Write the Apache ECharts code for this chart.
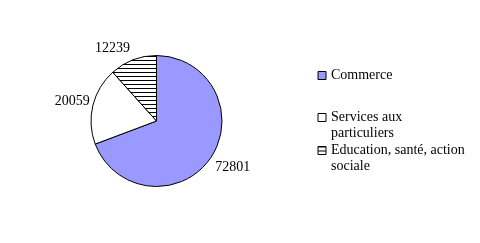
<!DOCTYPE html>
<html>
<head>
<meta charset="utf-8">
<script src="https://cdn.jsdelivr.net/npm/echarts@6/dist/echarts.min.js"></script>
<style>
html,body{margin:0;padding:0;background:#fff;}
#chart{width:480px;height:243px;}
</style>
</head>
<body>
<div id="chart"></div>
<script>
// ---- data ----
var categories = ['Commerce', 'Services aux particuliers', 'Education, santé, action sociale'];
var values = [72801, 20059, 12239];
var legendLabels = ['Commerce', 'Services aux\nparticuliers', 'Education, santé, action\nsociale'];

// ---- styles ----
function hatch() {
  var c = document.createElement('canvas');
  c.width = 4; c.height = 4;
  var g = c.getContext('2d');
  g.fillStyle = '#ffffff'; g.fillRect(0, 0, 4, 4);
  g.fillStyle = '#000000'; g.fillRect(0, 0, 4, 1);
  return c;
}
var fills = ['#9999FF', '#FFFFFF', { image: hatch(), repeat: 'repeat' }];
var labelShift = [[0, 9], [2, -4], [2, -12]];
var legendTops = [67.5, 93.5, 126.5];
var FONT = 'Liberation Serif, Times New Roman, serif';

var chart = echarts.init(document.getElementById('chart'), null, { renderer: 'canvas' });

var data = categories.map(function (c, i) {
  return { name: c, value: values[i], itemStyle: { color: fills[i] } };
});

var legends = categories.map(function (c, i) {
  return {
    data: [c],
    left: 317.5,
    top: legendTops[i],
    padding: 0,
    orient: 'vertical',
    icon: 'rect',
    itemWidth: 8,
    itemHeight: 8,
    selectedMode: false,
    itemStyle: { borderColor: '#000', borderWidth: 1 },
    formatter: function () { return i === 0 ? legendLabels[i] : '\n' + legendLabels[i]; },
    textStyle: { fontFamily: FONT, fontSize: 14, lineHeight: 16, color: '#000' }
  };
});

chart.setOption({
  backgroundColor: '#ffffff',
  animation: false,
  legend: legends,
  series: [{
    type: 'pie',
    center: [156.5, 121],
    radius: 65.5,
    startAngle: 90,
    clockwise: true,
    avoidLabelOverlap: false,
    data: data,
    itemStyle: { borderColor: '#000', borderWidth: 1 },
    emphasis: { disabled: true },
    label: {
      show: true,
      position: 'outside',
      formatter: '{c}',
      fontFamily: FONT,
      fontSize: 14,
      color: '#000'
    },
    labelLine: { show: false, length: 0, length2: 0 },
    labelLayout: function (p) {
      return { dx: labelShift[p.dataIndex][0], dy: labelShift[p.dataIndex][1] };
    }
  }]
});
</script>
</body>
</html>
